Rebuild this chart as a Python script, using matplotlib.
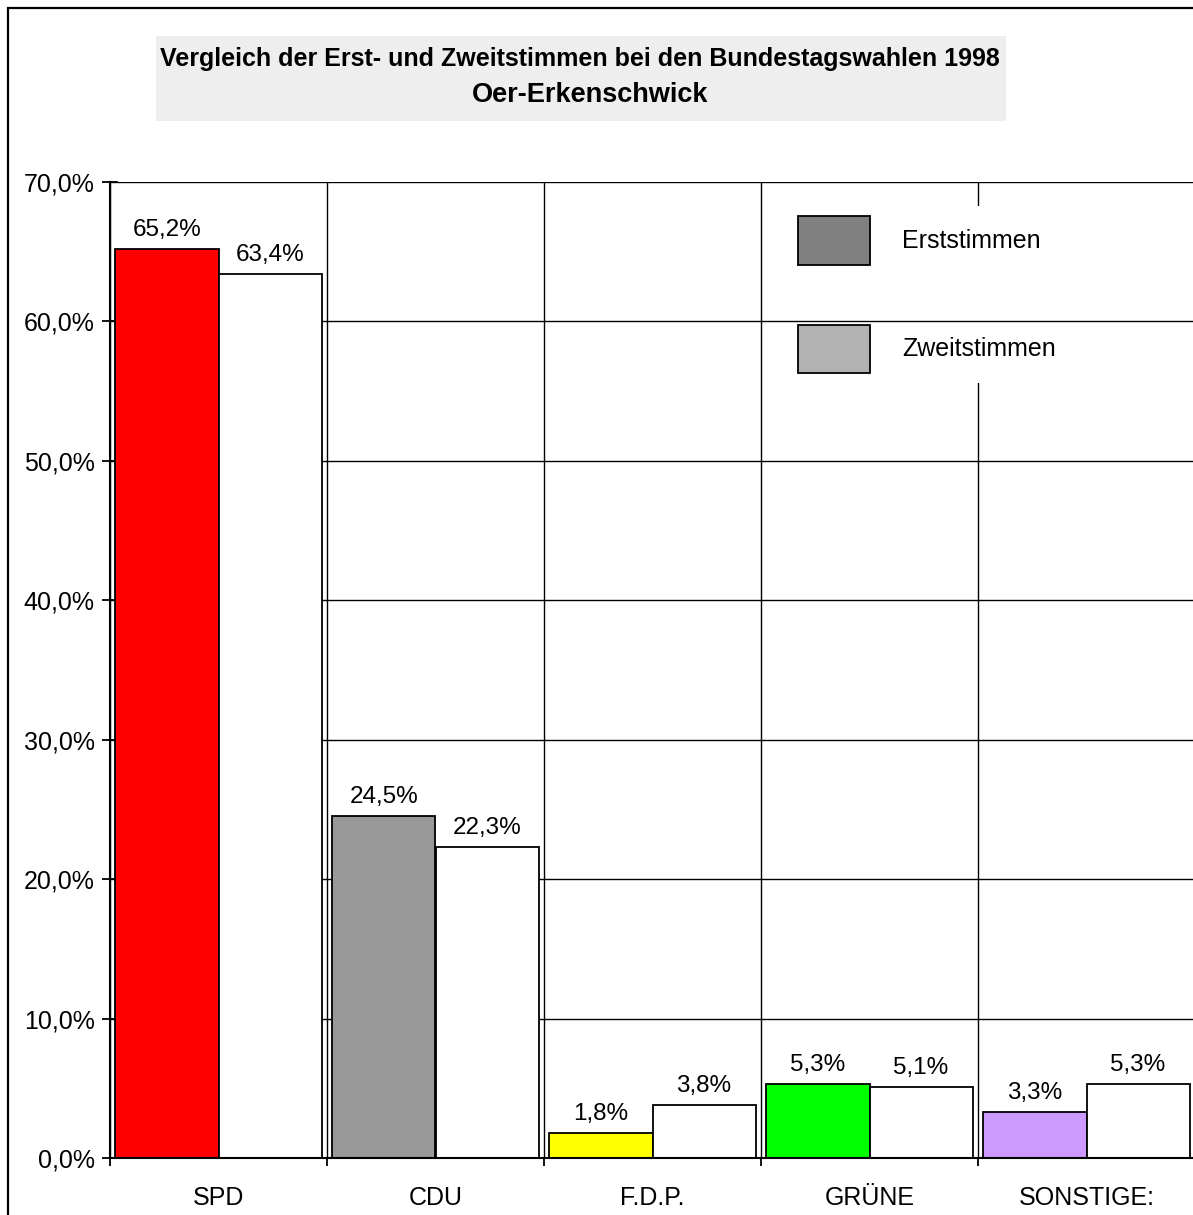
import matplotlib.pyplot as plt
from matplotlib.patches import Patch, Rectangle
import numpy as np

plt.rcParams['font.family'] = ['Liberation Sans', 'DejaVu Sans']

parties = ['SPD', 'CDU', 'F.D.P.', 'GRÜNE', 'SONSTIGE:']
erst = [65.2, 24.5, 1.8, 5.3, 3.3]
zweit = [63.4, 22.3, 3.8, 5.1, 5.3]
party_colors = ['#ff0000', '#999999', '#ffff00', '#00ff00', '#cc99ff']

W, H = 1193, 1215
fig = plt.figure(figsize=(W / 100, H / 100), dpi=100)

# outer frame (only left and top visible in the original)
fig.patches.append(Rectangle((8 / W, -0.5), 1.5, 1.5 - 8 / H, transform=fig.transFigure,
                             fill=False, edgecolor='black', linewidth=1.6))

# title box
fig.patches.append(Rectangle((156 / W, 1 - 121 / H), 850 / W, 85 / H, transform=fig.transFigure,
                             facecolor='#eeeeee', edgecolor='none'))
fig.text(580 / W, 1 - 59 / H, 'Vergleich der Erst- und Zweitstimmen bei den Bundestagswahlen 1998',
         ha='center', va='center', fontsize=18, fontweight='bold')
fig.text(590 / W, 1 - 95 / H, 'Oer-Erkenschwick', ha='center', va='center',
         fontsize=19.5, fontweight='bold')

ax = fig.add_axes([110 / W, 57 / H, 1085 / W, 976 / H])

x = np.arange(len(parties))
bw = 0.475
b1 = ax.bar(x - bw / 2, erst, bw, color=party_colors, edgecolor='black', linewidth=1.3, zorder=2)
b2 = ax.bar(x + bw / 2, zweit, bw, color='white', edgecolor='black', linewidth=1.3, zorder=2)

fmt = lambda v: f'{v:.1f}%'.replace('.', ',')
ax.bar_label(b1, labels=[fmt(v) for v in erst], padding=6, fontsize=17.5)
ax.bar_label(b2, labels=[fmt(v) for v in zweit], padding=6, fontsize=17.5)

ax.set_xlim(-0.5, len(parties) - 0.5)
ax.set_ylim(0, 70)
ax.set_yticks(np.arange(0, 71, 10))
ax.set_yticklabels([f'{v:.1f}%'.replace('.', ',') for v in np.arange(0, 71, 10)], fontsize=18)
ax.set_xticks(x)
ax.set_xticklabels(parties, fontsize=18)
ax.set_xticks(np.arange(-0.5, len(parties) - 0.4, 1), minor=True)

ax.tick_params(axis='x', which='major', length=0, pad=20)
ax.tick_params(axis='x', which='minor', direction='out', length=6, width=1.3)
ax.tick_params(axis='y', direction='inout', length=12, width=1.3, pad=5)

ax.grid(axis='y', which='major', color='black', linewidth=1)
ax.grid(axis='x', which='minor', color='black', linewidth=1)

for s in ['top', 'right']:
    ax.spines[s].set_visible(False)
for s in ['left', 'bottom']:
    ax.spines[s].set_linewidth(1.5)
    ax.spines[s].set_zorder(3)

ax.xaxis.set_zorder(0.5)
ax.yaxis.set_zorder(1.5)

handles = [Patch(facecolor='#808080', edgecolor='black', linewidth=1.3, label='Erststimmen'),
           Patch(facecolor='#b2b2b2', edgecolor='black', linewidth=1.3, label='Zweitstimmen')]
leg = ax.legend(handles=handles, loc='upper left', bbox_to_anchor=(775 / W, 1 - 194 / H),
                bbox_transform=fig.transFigure, fontsize=18, frameon=True, fancybox=False,
                framealpha=1, edgecolor='none', facecolor='white',
                handlelength=2.88, handleheight=2.58, labelspacing=2.4, handletextpad=1.32,
                borderpad=0.4)
leg.set_zorder(1)

fig.savefig('out.png', dpi=100)
